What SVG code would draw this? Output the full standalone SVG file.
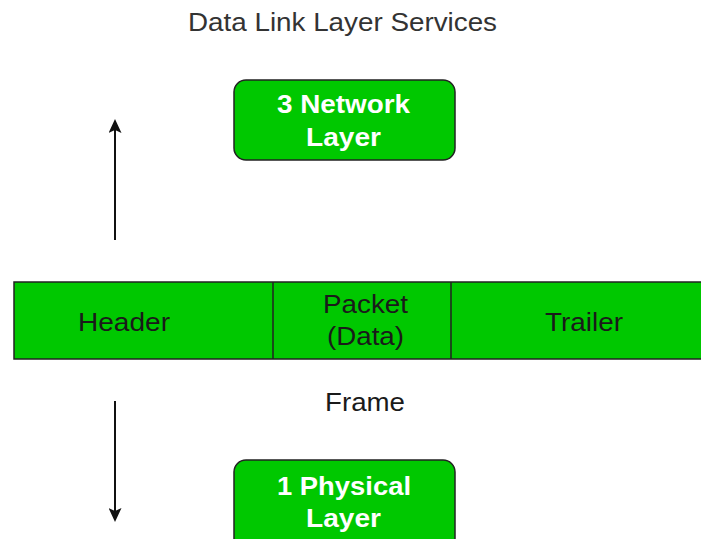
<svg xmlns="http://www.w3.org/2000/svg" width="701" height="539" viewBox="0 0 701 539">
<style>
.t{font-family:"Liberation Sans",Arial,sans-serif;font-size:25px;text-anchor:middle}
.b{font-family:"Liberation Sans",Arial,sans-serif;font-size:25px;font-weight:bold;fill:#fff;text-anchor:middle}
.box{fill:#00c800;stroke:#222;stroke-width:1.5}
.ln{stroke:#111;stroke-width:2;fill:none}
</style>
<defs>
<marker id="ah" markerWidth="14" markerHeight="13" refX="12" refY="6.5" orient="auto" markerUnits="userSpaceOnUse" viewBox="0 0 14 13">
<path d="M0,0 L14,6.5 L0,13 L3,6.5 z" fill="#111"/>
</marker>
</defs>
<text class="t" x="342.5" y="31" fill="#333" textLength="309" lengthAdjust="spacingAndGlyphs">Data Link Layer Services</text>
<g id="network">
<rect class="box" x="234" y="80" width="221" height="80" rx="12"/>
<text class="b" x="343.5" y="113" textLength="133" lengthAdjust="spacingAndGlyphs">3 Network</text>
<text class="b" x="343.5" y="146" textLength="75" lengthAdjust="spacingAndGlyphs">Layer</text>
</g>
<g id="frame">
<rect class="box" x="14" y="282" width="700" height="77" rx="0"/>
<line x1="273" y1="282" x2="273" y2="359" stroke="#222" stroke-width="1.5"/>
<line x1="451" y1="282" x2="451" y2="359" stroke="#222" stroke-width="1.5"/>
<text class="t" x="124" y="331" fill="#1a1a1a" textLength="92" lengthAdjust="spacingAndGlyphs">Header</text>
<text class="t" x="365.5" y="313" fill="#1a1a1a" textLength="85" lengthAdjust="spacingAndGlyphs">Packet</text>
<text class="t" x="365.5" y="345" fill="#1a1a1a" textLength="77" lengthAdjust="spacingAndGlyphs">(Data)</text>
<text class="t" x="584" y="331" fill="#1a1a1a" textLength="78" lengthAdjust="spacingAndGlyphs">Trailer</text>
</g>
<text class="t" x="365" y="411" fill="#1a1a1a" textLength="80" lengthAdjust="spacingAndGlyphs">Frame</text>
<g id="physical">
<rect class="box" x="234" y="460" width="221" height="90" rx="12"/>
<text class="b" x="344" y="495" textLength="134" lengthAdjust="spacingAndGlyphs">1 Physical</text>
<text class="b" x="343.5" y="527" textLength="75" lengthAdjust="spacingAndGlyphs">Layer</text>
</g>
<g id="connectors">
<line class="ln" x1="115" y1="240" x2="115" y2="121" marker-end="url(#ah)"/>
<line class="ln" x1="115" y1="401" x2="115" y2="520" marker-end="url(#ah)"/>
</g>
</svg>
